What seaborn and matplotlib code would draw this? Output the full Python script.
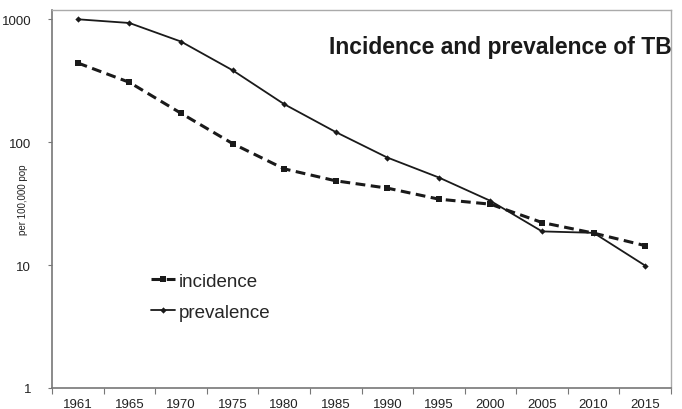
import numpy as np
import pandas as pd
import seaborn as sns
import matplotlib.pyplot as plt
from matplotlib.ticker import FixedLocator, NullFormatter, NullLocator
from matplotlib.lines import Line2D

years = ["1961", "1965", "1970", "1975", "1980", "1985", "1990", "1995", "2000", "2005", "2010", "2015"]
incidence = [441, 307, 172, 97.5, 60.7, 48.5, 42.3, 34.4, 31.3, 22.2, 18.2, 14.4]
prevalence = [1000, 933, 659, 385, 204, 121, 75, 51.6, 33.3, 18.8, 18.3, 9.9]

sns.set_style("white")
plt.rcParams["font.family"] = ["Liberation Sans", "DejaVu Sans"]

df = pd.DataFrame({"year": years, "incidence": incidence, "prevalence": prevalence})

fig = plt.figure(figsize=(6.82, 4.10), dpi=100)
ax = fig.add_axes([52 / 682, 21 / 410, 619 / 682, 378 / 410])

sns.lineplot(data=df, x="year", y="prevalence", ax=ax, color="#1a1a1a", lw=1.3,
             marker="D", markersize=3.2, markeredgewidth=0, sort=False)
sns.lineplot(data=df, x="year", y="incidence", ax=ax, color="#1a1a1a", lw=2.2,
             linestyle=(0, (3.2, 1.8)), marker="s", markersize=4.5, markeredgewidth=0, sort=False)

ax.set_yscale("log")
ax.set_ylim(1, 1190)
ax.set_xlim(-0.5, len(years) - 0.5)
ax.yaxis.set_major_locator(FixedLocator([1, 10, 100, 1000]))
ax.yaxis.set_minor_locator(NullLocator())
ax.set_yticklabels(["1", "10", "100", "1000"])
ax.xaxis.set_minor_locator(FixedLocator(np.arange(-0.5, len(years), 1.0)))
ax.xaxis.set_minor_formatter(NullFormatter())

ax.tick_params(axis="x", which="major", length=0, labelsize=9.5, pad=7, colors="#222222")
ax.tick_params(axis="x", which="minor", length=4, bottom=True, color="#777777", width=0.8)
ax.tick_params(axis="y", which="major", length=3, left=True, labelsize=9.5, pad=12,
               color="#777777", labelcolor="#222222", width=0.8)

for s in ["left", "bottom"]:
    ax.spines[s].set_color("#777777")
    ax.spines[s].set_linewidth(1.2)
for s in ["top", "right"]:
    ax.spines[s].set_color("#aaaaaa")
    ax.spines[s].set_linewidth(1.0)

ax.set_xlabel("")
ax.set_ylabel("per 100,000 pop", fontsize=7, color="#222222")
ax.yaxis.set_label_coords(-0.038, 0.5)

ax.text(1.002, 0.887, "Incidence and prevalence of TB", transform=ax.transAxes,
        ha="right", va="baseline", fontsize=16.5, fontweight="bold", color="#1a1a1a")

handles = [
    Line2D([], [], color="#1a1a1a", lw=2.2, linestyle=(0, (3.2, 1.8)), marker="s", markersize=4.5, markeredgewidth=0),
    Line2D([], [], color="#1a1a1a", lw=1.3, marker="D", markersize=3.2, markeredgewidth=0),
]
ax.legend(handles, ["incidence", "prevalence"], loc="upper left", bbox_to_anchor=(0.148, 0.325),
          frameon=False, fontsize=13.5, handlelength=1.3, handletextpad=0.15, labelspacing=0.75,
          borderaxespad=0)

fig.savefig("out.png", dpi=100)
